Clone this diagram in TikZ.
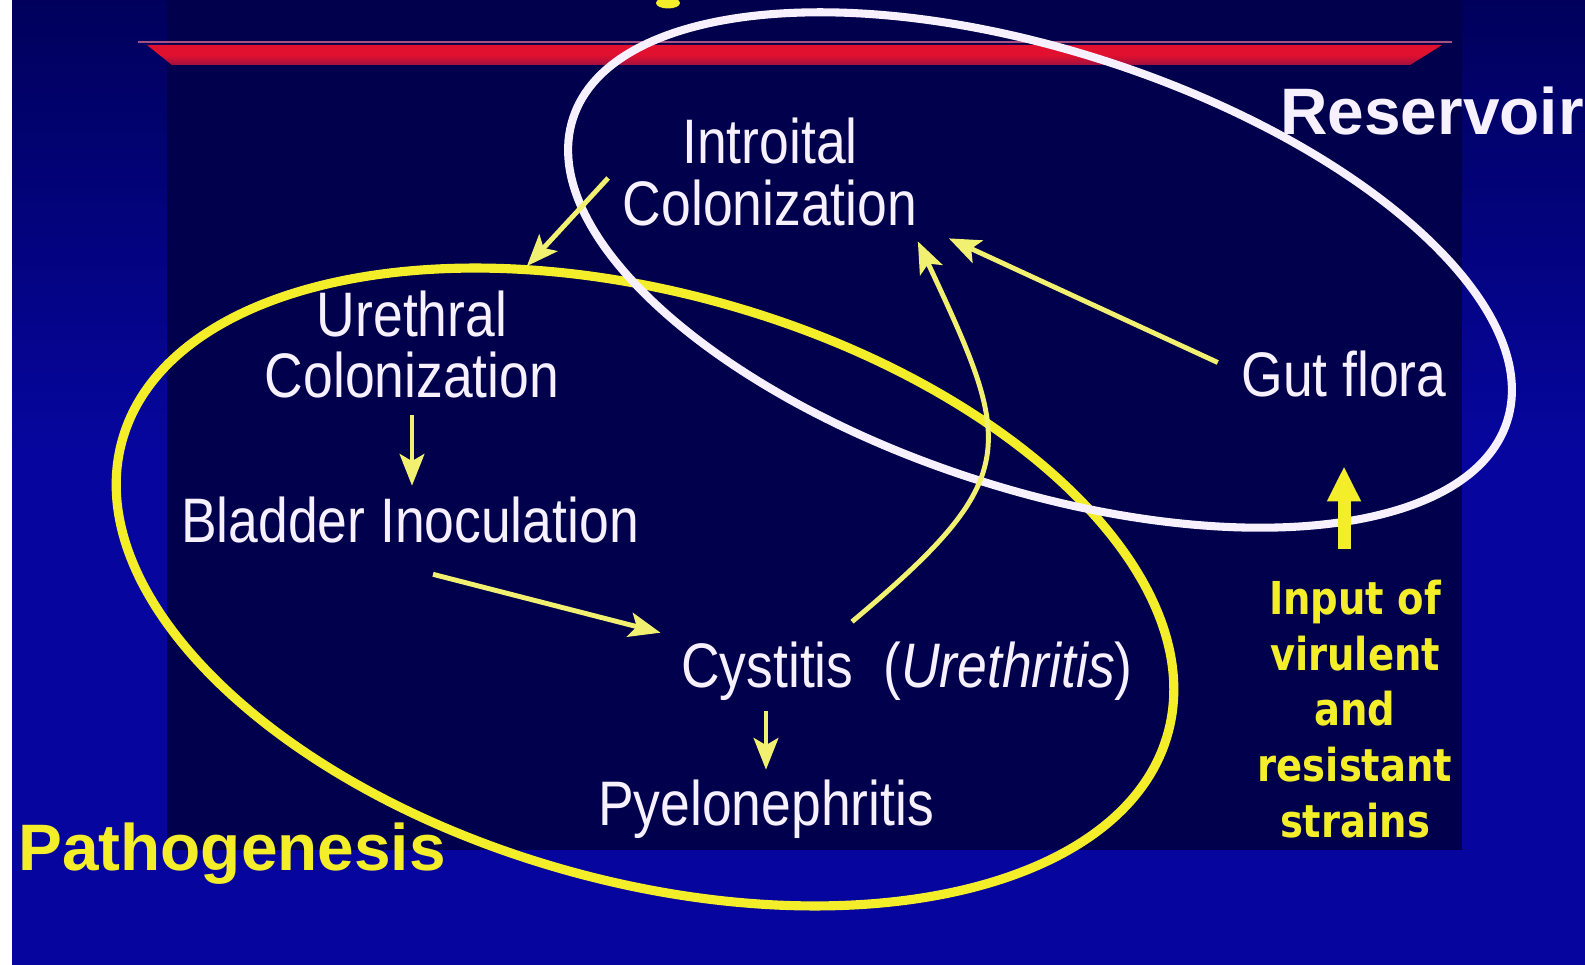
\documentclass[tikz,border=0pt]{standalone}
\usepackage{fontspec}
\setmainfont{Liberation Sans}
\newfontfamily\slimsans{Liberation Sans}[FakeStretch=0.85]
\newfontfamily\tagsans{DejaVu Sans}[FakeStretch=0.85]
\usetikzlibrary{arrows.meta,positioning,calc}
\definecolor{deepblue}{HTML}{06069E}
\definecolor{topnavy}{HTML}{00005C}
\definecolor{slidenavy}{HTML}{00004C}
\definecolor{barred}{HTML}{E0102E}
\definecolor{barwine}{HTML}{A01040}
\definecolor{barline}{HTML}{A85080}
\definecolor{chalk}{HTML}{F6F0FF}
\definecolor{lemon}{HTML}{F4EE2A}
\definecolor{paleyel}{HTML}{F2F070}
\tikzset{
  steptext/.style={text=chalk, inner sep=0pt, align=center,
                   font=\slimsans\fontsize{17.9}{17.4}\selectfont},
  headtext/.style={inner sep=0pt, font=\bfseries\fontsize{18.7}{20}\selectfont},
  tagtext/.style={text=lemon, inner sep=0pt, align=center,
                  font=\tagsans\bfseries\fontsize{12.9}{15.9}\selectfont},
  yarr/.style={-{Stealth[length=9pt,width=7pt,inset=2pt]}, line width=1.4pt, color=paleyel},
  bigarr/.style={-{Triangle[length=10pt,width=9pt]}, line width=3.7pt, color=lemon}}

\begin{document}
\begin{tikzpicture}[ring/.style={line width=2.3pt}]
    \useasboundingbox (0,0) rectangle (15.85,-9.65);
    \fill[deepblue] (0,0) rectangle (15.85,-9.65);
    \shade[top color=topnavy, bottom color=deepblue] (0,0) rectangle (15.85,-4.5);
    \fill[slidenavy] (1.67,0) rectangle (14.62,-8.5);
    \fill[white] (0,0) rectangle (0.12,-9.65);
    \fill[barline] (1.38,-0.41) rectangle (14.52,-0.43);
    \shade[top color=barred, bottom color=barwine, middle color=barred]
      (1.47,-0.45) -- (14.42,-0.45) -- (14.10,-0.65) -- (1.72,-0.65) -- cycle;
    \fill[lemon] (6.68,-0.03) ellipse (0.12 and 0.055);
    \draw[ring, lemon, line width=2.6pt, rotate around={-15.7:(6.45,-5.87)}] (6.45,-5.87) ellipse (5.43 and 2.94);
    \draw[ring, chalk, rotate around={-18:(10.40,-2.70)}] (10.40,-2.70) ellipse (4.91 and 2.19);
    \node[steptext] (intro) at (7.70,-1.72) {Introital\\Colonization};
    \node[steptext] (ureth) at (4.12,-3.445) {Urethral\\Colonization};
    \node[steptext, anchor=base] (blad) at (4.10,-5.43) {Bladder Inoculation};
    \node[steptext, anchor=base] (cyst) at (9.07,-6.88) {Cystitis\ \ (\textit{Urethritis})};
    \node[steptext, anchor=base] (pyelo) at (7.66,-8.25) {Pyelonephritis};
    \node[steptext, anchor=base] (gut) at (13.44,-3.97) {Gut flora};
    \node[headtext, text=chalk, anchor=base] (resv) at (14.32,-1.35) {Reservoir};
    \node[headtext, text=lemon, anchor=base] (patho) at (2.32,-8.70) {Pathogenesis};
    \node[tagtext] (input) at (13.55,-7.09) {Input of\\virulent\\and\\resistant\\strains};
    \draw[yarr] ([xshift=-0.14cm,yshift=-0.06cm]intro.west) -- ([xshift=-0.33cm,yshift=0.24cm]ureth.north east);
    \draw[yarr, shorten <=0.16cm, shorten >=0.11cm] (ureth.south) -- (ureth.south |- blad.north);
    \draw[yarr] ([xshift=0.23cm,yshift=-0.30cm]blad.south) -- ([xshift=-0.20cm,yshift=0.09cm]cyst.north west);
    \draw[yarr] ([xshift=-0.55cm,yshift=0.20cm]cyst.north) to[out=40,in=-65,looseness=1.5] ([yshift=-0.15cm]intro.south east);
    \draw[yarr] ([xshift=-0.23cm,yshift=0.12cm]gut.west) -- ([xshift=0.31cm,yshift=-0.12cm]intro.south east);
    \draw[bigarr, shorten <=0.30cm, shorten >=0.68cm] (input.north -| gut.south) -- (gut.south);
    \draw[yarr, shorten <=0.09cm, shorten >=0.09cm] (pyelo.north |- cyst.south) -- (pyelo.north);
  \end{tikzpicture}
\end{document}
